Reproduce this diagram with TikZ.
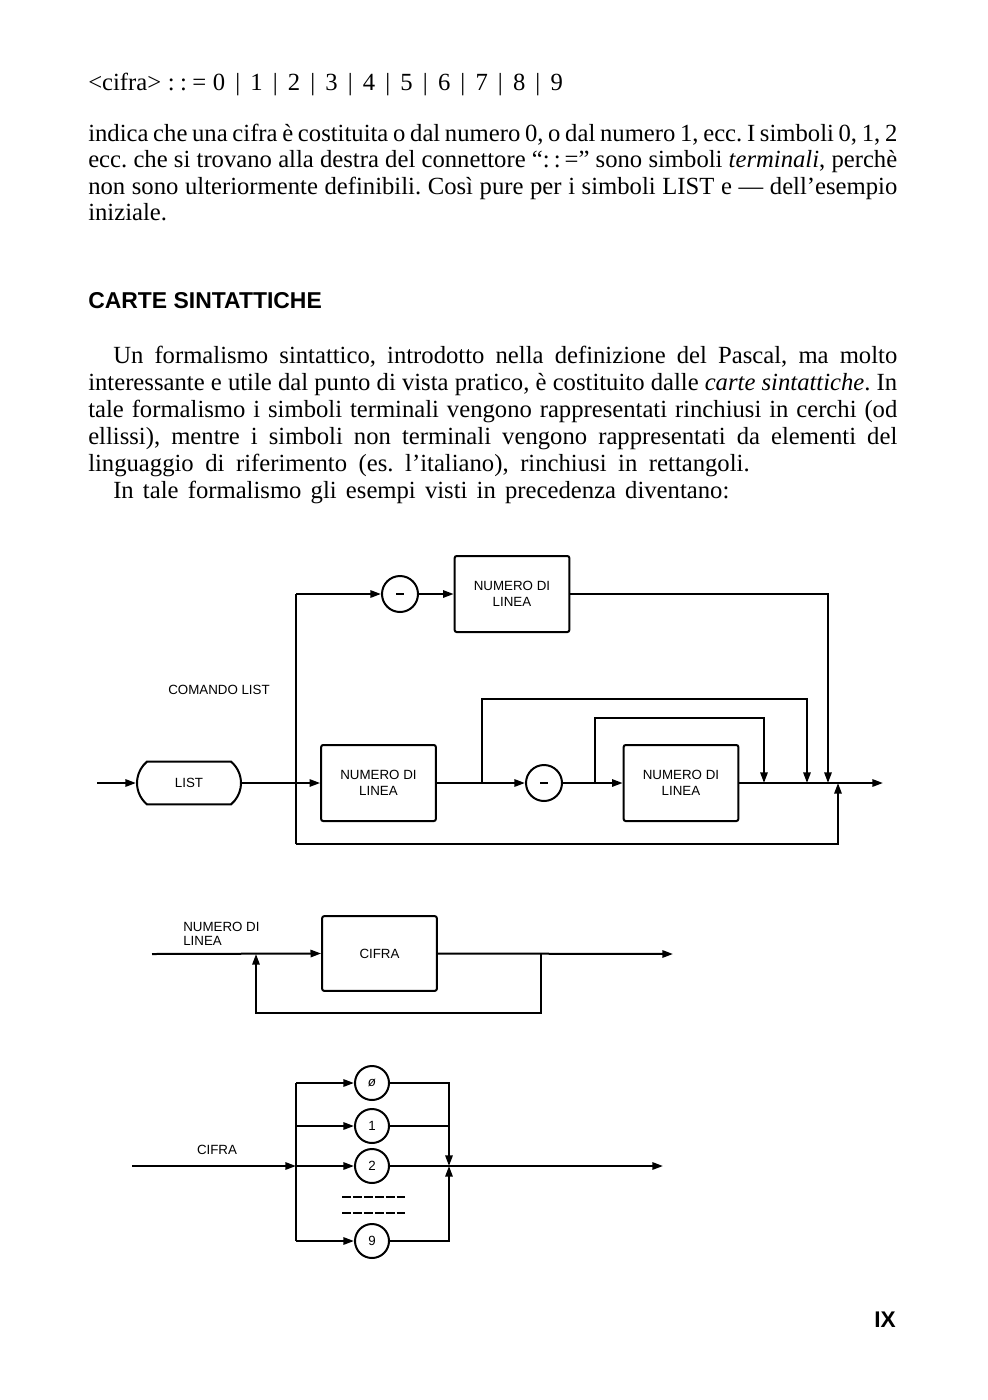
\documentclass[tikz,border=0pt]{standalone}
\usepackage{fontspec}
\setmainfont{Liberation Serif}
\setsansfont{Liberation Sans}
\usetikzlibrary{shapes.misc,arrows.meta}
\newcommand{\jl}[2]{\makebox[#1][s]{#2}}
\frenchspacing
\begin{document}
\begin{tikzpicture}[x=0.75pt,y=-0.75pt,
  ln/.style={line width=1.5pt},
  ar/.style={line width=1.5pt,-{Triangle[length=8pt,width=5.5pt]}},
  nbox/.style={draw,line width=1.5pt,rounded corners=1.5pt,minimum width=86pt,minimum height=57pt,font=\sffamily\fontsize{10}{12}\selectfont,align=center,inner sep=0pt},
  term/.style={draw,circle,line width=1.5pt,minimum size=27pt,inner sep=0pt},
  dig/.style={draw,circle,line width=1.5pt,minimum size=25.5pt,inner sep=0pt,font=\sffamily\fontsize{10}{11}\selectfont},
  lbl/.style={font=\sffamily\fontsize{10}{10.5}\selectfont,inner sep=0pt},
  body/.style={font=\fontsize{18.5}{20}\selectfont,inner sep=0pt,anchor=base west}]
\path[fill=white,use as bounding box] (0,0) rectangle (988,1400);

% ---------- text ----------
\node[body] (f0) at (88,90) {\jl{356pt}{\textless cifra\textgreater\kern5pt:\kern4pt:\kern4pt=\kern5pt0 | 1 | 2 | 3 | 4 | 5 | 6 | 7 | 8 | 9}};
\node[body] (p1) at (88,141) {\jl{606.75pt}{indica che una cifra è costituita o dal numero 0, o dal numero 1, ecc. I simboli 0, 1, 2}};
\node[body] (p2) at (88,167.5) {\jl{606.75pt}{ecc. che si trovano alla destra del connettore “:\kern3pt:\kern3pt=” sono simboli \textit{terminali}, perchè}};
\node[body] (p3) at (88,194) {\jl{606.75pt}{non sono ulteriormente definibili. Così pure per i simboli LIST e — dell’esempio}};
\node[body] (p4) at (88,220.5) {iniziale.};

\node[anchor=base west,inner sep=0pt,font=\sffamily\bfseries\fontsize{17.2}{18}\selectfont] (hd) at (88,308) {CARTE SINTATTICHE};

\node[body] (q1) at (113,363) {\jl{588pt}{Un formalismo sintattico, introdotto nella definizione del Pascal, ma molto}};
\node[body] (q2) at (88,390) {\jl{606.75pt}{interessante e utile dal punto di vista pratico, è costituito dalle \textit{carte sintattiche}. In}};
\node[body] (q3) at (88,417) {\jl{606.75pt}{tale formalismo i simboli terminali vengono rappresentati rinchiusi in cerchi (od}};
\node[body] (q4) at (88,444) {\jl{606.75pt}{ellissi), mentre i simboli non terminali vengono rappresentati da elementi del}};
\node[body] (q5) at (88,471) {\jl{496pt}{linguaggio di riferimento (es. l’italiano), rinchiusi in rettangoli.}};
\node[body] (q6) at (113,498) {\jl{462pt}{In tale formalismo gli esempi visti in precedenza diventano:}};

% ---------- diagram 1: COMANDO LIST ----------
\node[lbl] (lab1) at (219,690) {COMANDO LIST};
\coordinate (in1) at (97,783);
\node[draw,line width=1.5pt,rounded rectangle,rounded rectangle arc length=100,minimum width=78pt,minimum height=32pt,inner sep=0pt,font=\sffamily\fontsize{10}{11}\selectfont] (list) at (189,783) {LIST};
\node[nbox] (nl1) at (378.5,783) {NUMERO DI\\LINEA};
\node[term] (c0) at (400,594) {\rule{6pt}{2pt}};
\node[nbox] (nl0) at (512,594) {NUMERO DI\\LINEA};
\node[term] (c1) at (544,783) {\rule{6pt}{2pt}};
\node[nbox] (nl2) at (681,783) {NUMERO DI\\LINEA};
\coordinate (jA) at (296,783);
\coordinate (jAt) at (296,594);
\coordinate (jAb) at (296,844);
\coordinate (jB) at (482,783);
\coordinate (jBt) at (482,699);
\coordinate (jC) at (595,783);
\coordinate (jCt) at (595,718);
\coordinate (m1) at (764,783);
\coordinate (m1t) at (764,718);
\coordinate (m2) at (807,783);
\coordinate (m2t) at (807,699);
\coordinate (m3) at (828,783);
\coordinate (m3t) at (828,594);
\coordinate (m4) at (838,783);
\coordinate (m4b) at (838,844);
\coordinate (out1) at (883,783);

\draw[ar] (in1) -- (list);
\draw[ln] (list.east) -- (jA);
\draw[ar] (jA) -- (nl1.west);
\draw[ln] (jAb) -- (jAt);
\draw[ar] (jAt) -- (c0.west);
\draw[ar] (c0.east) -- (nl0.west);
\draw[ar] (nl0.east) -- (m3t) -- (m3);
\draw[ar] (jAb) -- (m4b) -- (m4);
\draw[ln] (nl1.east) -- (jB);
\draw[ar] (jB) -- (c1.west);
\draw[ar] (jB) -- (jBt) -- (m2t) -- (m2);
\draw[ln] (c1.east) -- (jC);
\draw[ar] (jC) -- (nl2.west);
\draw[ar] (jC) -- (jCt) -- (m1t) -- (m1);
\draw[ar] (nl2.east) -- (out1);

% ---------- diagram 2: NUMERO DI LINEA ----------
\node[lbl,anchor=west,align=left] (lab2) at (183,934) {NUMERO DI\\LINEA};
\node[nbox,minimum width=86pt,minimum height=56pt] (cif) at (379.5,953.5) {CIFRA};
\coordinate (in2) at (152,954);
\coordinate (k1) at (256,954);
\coordinate (k1b) at (256,1013);
\coordinate (k2) at (541,954);
\coordinate (k2b) at (541,1013);
\coordinate (out2) at (673,954);
\draw[ar] (in2) -- (cif.west);
\draw[ar] (cif.east) -- (out2);
\draw[ar] (k2) -- (k2b) -- (k1b) -- (k1);

% ---------- diagram 3: CIFRA ----------
\node[lbl] (lab3) at (217,1150) {CIFRA};
\node[dig] (d0) at (372,1083) {\textit{ø}};
\node[dig] (d1) at (372,1126) {1};
\node[dig] (d2) at (372,1166) {2};
\node[dig] (d9) at (372,1241) {9};
\coordinate (in3) at (132,1166);
\coordinate (v0) at (296,1083);
\coordinate (v1) at (296,1126);
\coordinate (v2) at (296,1166);
\coordinate (v9) at (296,1241);
\coordinate (w0) at (449,1083);
\coordinate (w1) at (449,1126);
\coordinate (w2) at (449,1166);
\coordinate (w9) at (449,1241);
\coordinate (out3) at (663,1166);
\draw[ar] (in3) -- (v2);
\draw[ln] (v0) -- (v9);
\draw[ar] (v0) -- (d0.west);
\draw[ar] (v1) -- (d1.west);
\draw[ar] (v2) -- (d2.west);
\draw[ar] (v9) -- (d9.west);
\draw[ln] (d0.east) -- (w0) -- (w1);
\draw[ar] (d1.east) -- (w1) -- (w2);
\draw[ar] (d9.east) -- (w9) -- (w2);
\draw[ar] (d2.east) -- (out3);
\coordinate (e1a) at (342,1197);
\coordinate (e1b) at (405,1197);
\coordinate (e2a) at (342,1213);
\coordinate (e2b) at (405,1213);
\draw[line width=0.8pt,dash pattern=on 7pt off 1.2pt] (e1a) -- (e1b);
\draw[line width=0.8pt,dash pattern=on 7pt off 1.2pt] (e2a) -- (e2b);

% page number
\node[font=\sffamily\bfseries\fontsize{17}{17}\selectfont,inner sep=0pt] (pg) at (885,1320) {IX};
\end{tikzpicture}
\end{document}
